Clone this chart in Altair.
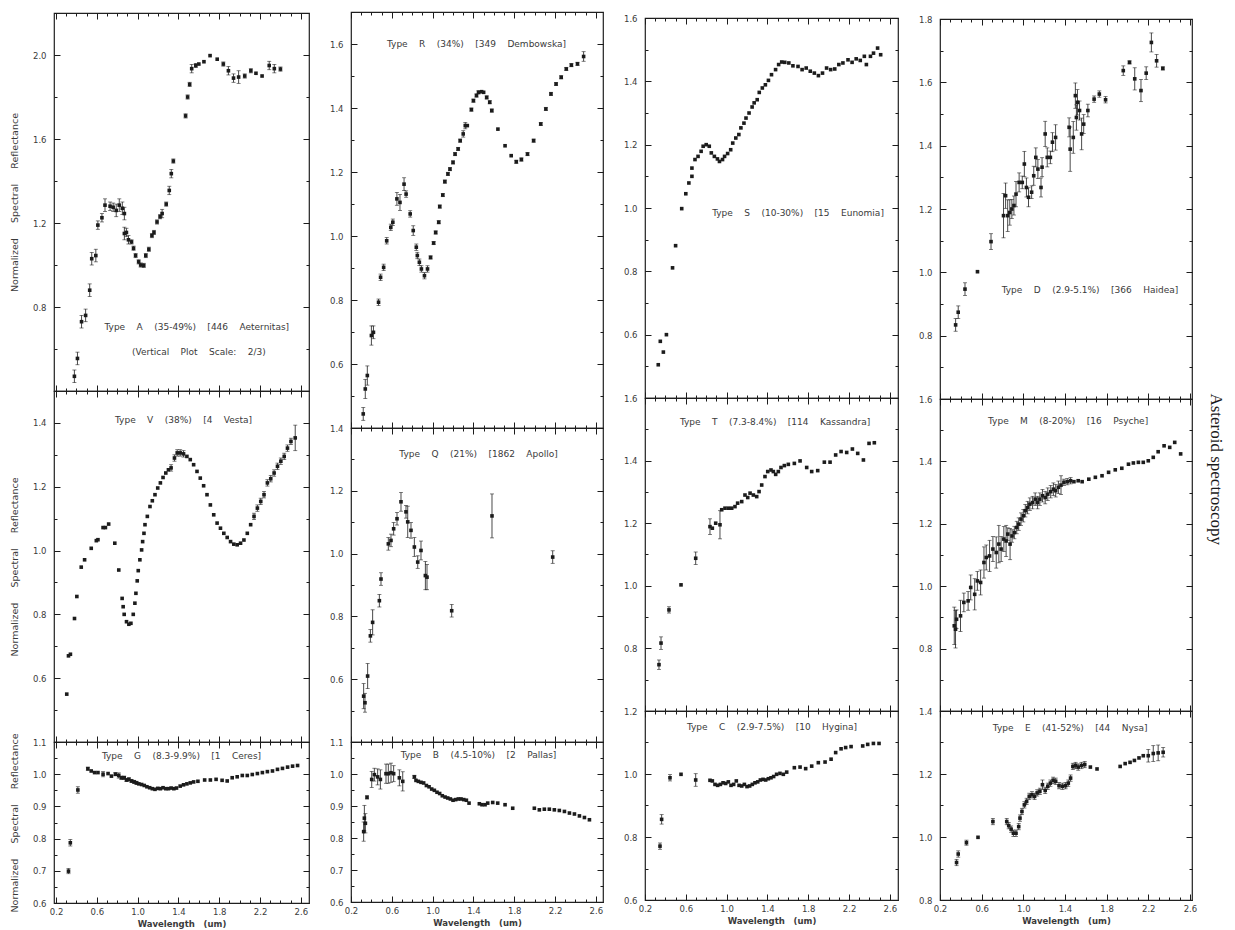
import math
import altair as alt
import pandas as pd

NB = "\u00a0"

# ---------------- data (wavelength um, normalized reflectance, error) ----------------
X_A = [0.38, 0.41, 0.45, 0.49, 0.53, 0.55, 0.59, 0.61, 0.65, 0.68,
       0.73, 0.76, 0.79, 0.82, 0.85, 0.87, 0.87, 0.89, 0.91, 0.94,
       0.96, 0.98, 1.01, 1.03, 1.06, 1.08, 1.11, 1.14, 1.16, 1.19,
       1.22, 1.24, 1.28, 1.31, 1.33, 1.35, 1.47, 1.49, 1.51, 1.53,
       1.57, 1.60, 1.65, 1.71, 1.78, 1.84, 1.89, 1.94, 1.99, 2.05,
       2.11, 2.16, 2.22, 2.29, 2.34, 2.40]
Y_A = [0.47, 0.555, 0.73, 0.76, 0.88, 1.03, 1.045, 1.19, 1.225, 1.285,
       1.28, 1.275, 1.26, 1.285, 1.27, 1.245, 1.15, 1.155, 1.12, 1.11,
       1.08, 1.045, 1.015, 1.0, 0.998, 1.045, 1.075, 1.14, 1.155, 1.205,
       1.23, 1.245, 1.29, 1.355, 1.435, 1.495, 1.71, 1.80, 1.86, 1.935,
       1.95, 1.957, 1.968, 1.997, 1.98, 1.957, 1.925, 1.89, 1.895, 1.90,
       1.925, 1.913, 1.90, 1.95, 1.935, 1.933]
E_A = [0.03, 0.03, 0.03, 0.03, 0.03, 0.03, 0.03, 0.02, 0.02, 0.03,
       0.02, 0.02, 0.03, 0.03, 0.03, 0.03, 0.03, 0.02, 0.02, 0.01,
       0.01, 0.01, 0.01, 0.01, 0.01, 0.01, 0.01, 0.01, 0.01, 0.01,
       0.01, 0.02, 0.01, 0.02, 0.02, 0.01, 0.01, 0.01, 0.01, 0.02,
       0.01, 0.0, 0.0, 0.0, 0.0, 0.01, 0.02, 0.02, 0.03, 0.01,
       0.01, 0.0, 0.0, 0.02, 0.02, 0.01]

X_V = [0.305, 0.322, 0.341, 0.381, 0.404, 0.447, 0.48, 0.545, 0.595, 0.611,
       0.661, 0.684, 0.716, 0.776, 0.815, 0.848, 0.858, 0.868, 0.891, 0.914,
       0.934, 0.957, 0.973, 0.983, 0.996, 1.006, 1.022, 1.039, 1.049, 1.062,
       1.072, 1.095, 1.121, 1.144, 1.17, 1.197, 1.223, 1.249, 1.276, 1.302,
       1.328, 1.361, 1.388, 1.417, 1.45, 1.483, 1.516, 1.549, 1.582, 1.614,
       1.647, 1.68, 1.713, 1.746, 1.779, 1.812, 1.845, 1.878, 1.911, 1.943,
       1.976, 2.009, 2.042, 2.075, 2.108, 2.141, 2.174, 2.207, 2.239, 2.272,
       2.305, 2.338, 2.371, 2.404, 2.437, 2.469, 2.503, 2.545]
Y_V = [0.55, 0.67, 0.675, 0.787, 0.856, 0.948, 0.971, 1.007, 1.031, 1.034,
       1.072, 1.072, 1.083, 1.023, 0.939, 0.85, 0.824, 0.8, 0.777, 0.769,
       0.772, 0.8, 0.835, 0.866, 0.905, 0.937, 0.971, 1.002, 1.028, 1.054,
       1.081, 1.107, 1.138, 1.156, 1.175, 1.196, 1.212, 1.229, 1.243, 1.253,
       1.259, 1.29, 1.306, 1.306, 1.303, 1.295, 1.285, 1.269, 1.248, 1.227,
       1.203, 1.175, 1.143, 1.112, 1.086, 1.07, 1.054, 1.041, 1.028, 1.02,
       1.018, 1.023, 1.033, 1.054, 1.081, 1.107, 1.133, 1.154, 1.175, 1.212,
       1.225, 1.243, 1.264, 1.28, 1.295, 1.321, 1.342, 1.353]
E_V = [0.0, 0.0, 0.0, 0.0, 0.0, 0.0, 0.0, 0.0, 0.0, 0.0,
       0.0, 0.0, 0.0, 0.0, 0.0, 0.0, 0.0, 0.0, 0.0, 0.0,
       0.0, 0.0, 0.0, 0.0, 0.0, 0.0, 0.0, 0.0, 0.0, 0.0,
       0.0, 0.0, 0.0, 0.0, 0.0, 0.0, 0.0, 0.0, 0.0, 0.0,
       0.01, 0.01, 0.01, 0.01, 0.01, 0.0, 0.0, 0.0, 0.0, 0.0,
       0.0, 0.0, 0.0, 0.0, 0.0, 0.0, 0.0, 0.0, 0.0, 0.0,
       0.0, 0.0, 0.0, 0.0, 0.0, 0.01, 0.01, 0.01, 0.01, 0.01,
       0.01, 0.01, 0.01, 0.01, 0.01, 0.01, 0.01, 0.04]

X_G = [0.322, 0.34, 0.414, 0.512, 0.545, 0.578, 0.611, 0.661, 0.71, 0.743,
       0.782, 0.815, 0.841, 0.868, 0.891, 0.914, 0.94, 0.966, 0.989, 1.012,
       1.039, 1.065, 1.091, 1.118, 1.144, 1.17, 1.197, 1.223, 1.249, 1.276,
       1.302, 1.328, 1.355, 1.381, 1.417, 1.45, 1.483, 1.516, 1.549, 1.591,
       1.657, 1.713, 1.769, 1.828, 1.878, 1.927, 1.976, 2.026, 2.075, 2.124,
       2.174, 2.223, 2.272, 2.322, 2.371, 2.42, 2.47, 2.519, 2.568]
Y_G = [0.699, 0.787, 0.951, 1.017, 1.01, 1.005, 1.005, 1.0, 1.002, 0.994,
       1.0, 0.996, 0.989, 0.989, 0.982, 0.984, 0.979, 0.976, 0.973, 0.97,
       0.968, 0.965, 0.961, 0.958, 0.955, 0.953, 0.956, 0.955, 0.958, 0.955,
       0.955, 0.957, 0.955, 0.957, 0.963, 0.967, 0.97, 0.973, 0.976, 0.978,
       0.982, 0.982, 0.984, 0.981, 0.979, 0.989, 0.992, 0.996, 0.996, 0.999,
       1.002, 1.005, 1.008, 1.01, 1.015, 1.018, 1.022, 1.025, 1.027]
E_G = [0.008, 0.01, 0.01, 0.005, 0.0, 0.0, 0.0, 0.008, 0.0, 0.0,
       0.005, 0.008, 0.005, 0.005, 0.005, 0.005, 0.005, 0.005, 0.005, 0.0,
       0.0, 0.0, 0.0, 0.0, 0.0, 0.0, 0.0, 0.0, 0.0, 0.0,
       0.0, 0.0, 0.0, 0.0, 0.0, 0.0, 0.0, 0.0, 0.0, 0.0,
       0.0, 0.0, 0.0, 0.0, 0.0, 0.0, 0.0, 0.0, 0.0, 0.0,
       0.0, 0.0, 0.0, 0.0, 0.0, 0.0, 0.0, 0.0, 0.0]

X_R = [0.32, 0.34, 0.36, 0.40, 0.42, 0.47, 0.49, 0.52, 0.55, 0.59,
       0.61, 0.65, 0.68, 0.72, 0.74, 0.78, 0.81, 0.84, 0.85, 0.87,
       0.89, 0.92, 0.95, 0.98, 1.01, 1.03, 1.06, 1.07, 1.10, 1.12,
       1.15, 1.17, 1.20, 1.22, 1.25, 1.27, 1.30, 1.32, 1.34, 1.38,
       1.40, 1.43, 1.45, 1.48, 1.50, 1.53, 1.56, 1.58, 1.64, 1.71,
       1.77, 1.82, 1.87, 1.93, 1.99, 2.06, 2.11, 2.16, 2.21, 2.26,
       2.31, 2.36, 2.42, 2.48]
Y_R = [0.444, 0.522, 0.564, 0.689, 0.699, 0.793, 0.871, 0.902, 0.985, 1.027,
       1.043, 1.116, 1.105, 1.162, 1.131, 1.069, 1.017, 0.965, 0.939, 0.918,
       0.897, 0.876, 0.897, 0.933, 0.978, 1.011, 1.043, 1.092, 1.128, 1.17,
       1.194, 1.209, 1.23, 1.256, 1.272, 1.298, 1.319, 1.345, 1.345, 1.395,
       1.423, 1.439, 1.449, 1.451, 1.449, 1.433, 1.418, 1.392, 1.334, 1.282,
       1.251, 1.232, 1.239, 1.256, 1.298, 1.35, 1.397, 1.444, 1.475, 1.496,
       1.522, 1.534, 1.538, 1.561]
E_R = [0.02, 0.03, 0.03, 0.03, 0.02, 0.01, 0.01, 0.01, 0.01, 0.01,
       0.01, 0.02, 0.025, 0.02, 0.01, 0.01, 0.015, 0.01, 0.01, 0.01,
       0.01, 0.01, 0.01, 0.005, 0.005, 0.005, 0.005, 0.005, 0.005, 0.005,
       0.005, 0.005, 0.005, 0.005, 0.005, 0.005, 0.01, 0.01, 0.0, 0.005,
       0.005, 0.005, 0.005, 0.0, 0.0, 0.005, 0.005, 0.005, 0.0, 0.0,
       0.0, 0.005, 0.005, 0.005, 0.005, 0.005, 0.005, 0.005, 0.005, 0.005,
       0.005, 0.005, 0.005, 0.015]

X_Q = [0.324, 0.337, 0.363, 0.39, 0.412, 0.478, 0.494, 0.566, 0.592, 0.618,
       0.651, 0.69, 0.739, 0.756, 0.788, 0.821, 0.854, 0.886, 0.929, 0.945,
       1.187, 1.582, 2.177]
Y_Q = [0.546, 0.525, 0.61, 0.738, 0.781, 0.85, 0.919, 1.031, 1.042, 1.079,
       1.111, 1.165, 1.133, 1.101, 1.074, 1.021, 0.973, 1.01, 0.93, 0.925,
       0.818, 1.12, 0.989]
E_Q = [0.04, 0.03, 0.04, 0.02, 0.04, 0.02, 0.02, 0.02, 0.02, 0.02,
       0.02, 0.03, 0.02, 0.05, 0.025, 0.03, 0.02, 0.03, 0.045, 0.04,
       0.02, 0.07, 0.02]

X_B = [0.324, 0.331, 0.341, 0.357, 0.403, 0.429, 0.461, 0.488, 0.543, 0.566,
       0.592, 0.618, 0.674, 0.707, 0.821, 0.837, 0.86, 0.886, 0.912, 0.939,
       0.965, 0.991, 1.017, 1.043, 1.069, 1.095, 1.122, 1.148, 1.174, 1.2,
       1.226, 1.252, 1.278, 1.305, 1.331, 1.357, 1.458, 1.484, 1.514, 1.54,
       1.589, 1.638, 1.71, 1.785, 1.997, 2.046, 2.095, 2.144, 2.193, 2.242,
       2.292, 2.341, 2.39, 2.439, 2.488, 2.537]
Y_B = [0.82, 0.862, 0.846, 0.927, 0.983, 0.998, 0.991, 0.983, 1.001, 1.001,
       1.004, 1.001, 0.988, 0.977, 0.991, 0.98, 0.977, 0.974, 0.972, 0.964,
       0.96, 0.953, 0.949, 0.943, 0.939, 0.932, 0.928, 0.925, 0.922, 0.918,
       0.92, 0.922, 0.922, 0.92, 0.918, 0.909, 0.907, 0.904, 0.904, 0.909,
       0.911, 0.909, 0.904, 0.893, 0.893, 0.888, 0.89, 0.89, 0.888, 0.886,
       0.883, 0.878, 0.875, 0.869, 0.864, 0.857]
E_B = [0.03, 0.04, 0.03, 0.005, 0.025, 0.02, 0.025, 0.03, 0.03, 0.03,
       0.03, 0.025, 0.025, 0.03, 0.005, 0.0, 0.0, 0.0, 0.0, 0.0,
       0.0, 0.0, 0.0, 0.0, 0.0, 0.0, 0.0, 0.0, 0.0, 0.0,
       0.0, 0.0, 0.0, 0.0, 0.0, 0.0, 0.0, 0.0, 0.0, 0.0,
       0.0, 0.0, 0.0, 0.0, 0.0, 0.0, 0.0, 0.0, 0.0, 0.0,
       0.0, 0.0, 0.0, 0.0, 0.0, 0.0]

X_S = [0.33, 0.35, 0.38, 0.41, 0.47, 0.50, 0.56, 0.60, 0.63, 0.66,
       0.66, 0.69, 0.72, 0.75, 0.77, 0.80, 0.83, 0.85, 0.88, 0.91,
       0.93, 0.96, 0.98, 1.01, 1.04, 1.06, 1.09, 1.12, 1.14, 1.17,
       1.19, 1.22, 1.25, 1.27, 1.30, 1.32, 1.35, 1.38, 1.41, 1.44,
       1.48, 1.51, 1.54, 1.57, 1.61, 1.65, 1.70, 1.74, 1.78, 1.82,
       1.86, 1.90, 1.94, 1.98, 2.02, 2.06, 2.10, 2.14, 2.19, 2.23,
       2.27, 2.31, 2.35, 2.37, 2.41, 2.44, 2.48, 2.51]
Y_S = [0.505, 0.579, 0.545, 0.6, 0.811, 0.881, 0.998, 1.045, 1.079, 1.1,
       1.126, 1.153, 1.163, 1.179, 1.195, 1.2, 1.195, 1.174, 1.163, 1.155,
       1.147, 1.153, 1.163, 1.172, 1.184, 1.205, 1.221, 1.232, 1.253, 1.268,
       1.284, 1.3, 1.319, 1.332, 1.342, 1.365, 1.379, 1.389, 1.403, 1.421,
       1.437, 1.453, 1.461, 1.46, 1.458, 1.449, 1.447, 1.437, 1.442, 1.432,
       1.426, 1.418, 1.426, 1.442, 1.437, 1.439, 1.453, 1.458, 1.468, 1.46,
       1.471, 1.466, 1.479, 1.453, 1.479, 1.489, 1.505, 1.484]
E_S = [0.0 for _ in X_S]

X_T = [0.337, 0.357, 0.435, 0.553, 0.697, 0.837, 0.86, 0.893, 0.935, 0.952,
       0.984, 1.017, 1.05, 1.082, 1.108, 1.148, 1.18, 1.207, 1.23, 1.262,
       1.295, 1.318, 1.344, 1.376, 1.403, 1.435, 1.458, 1.481, 1.507, 1.533,
       1.566, 1.605, 1.664, 1.72, 1.785, 1.834, 1.893, 1.958, 2.014, 2.069,
       2.122, 2.177, 2.233, 2.285, 2.341, 2.396, 2.448]
Y_T = [0.748, 0.817, 0.923, 1.003, 1.088, 1.189, 1.184, 1.2, 1.195, 1.243,
       1.248, 1.248, 1.248, 1.253, 1.264, 1.269, 1.29, 1.282, 1.296, 1.29,
       1.285, 1.301, 1.322, 1.349, 1.365, 1.37, 1.365, 1.356, 1.365, 1.378,
       1.384, 1.388, 1.391, 1.399, 1.378, 1.365, 1.368, 1.395, 1.395, 1.418,
       1.429, 1.426, 1.437, 1.423, 1.402, 1.455, 1.457]
E_T = [0.015, 0.02, 0.01, 0.0, 0.02, 0.025, 0.0, 0.0, 0.045, 0.0,
       0.0, 0.0, 0.0, 0.0, 0.0, 0.0, 0.0, 0.0, 0.0, 0.0,
       0.0, 0.0, 0.0, 0.0, 0.0, 0.0, 0.0, 0.0, 0.0, 0.0,
       0.0, 0.0, 0.0, 0.0, 0.0, 0.0, 0.0, 0.0, 0.0, 0.0,
       0.0, 0.0, 0.0, 0.0, 0.0, 0.0, 0.0]

X_C = [0.347, 0.363, 0.445, 0.553, 0.697, 0.837, 0.86, 0.886, 0.912, 0.939,
       0.965, 0.991, 1.017, 1.043, 1.069, 1.095, 1.122, 1.148, 1.174, 1.2,
       1.226, 1.252, 1.278, 1.305, 1.331, 1.357, 1.383, 1.409, 1.435, 1.461,
       1.49, 1.523, 1.556, 1.589, 1.664, 1.72, 1.775, 1.834, 1.899, 1.965,
       2.024, 2.069, 2.122, 2.167, 2.22, 2.334, 2.383, 2.439, 2.494]
Y_C = [0.771, 0.856, 0.988, 0.999, 0.981, 0.98, 0.978, 0.967, 0.964, 0.967,
       0.972, 0.97, 0.975, 0.964, 0.967, 0.978, 0.964, 0.962, 0.967, 0.96,
       0.962, 0.967, 0.972, 0.975, 0.981, 0.983, 0.981, 0.985, 0.988, 0.992,
       0.999, 1.002, 0.999, 1.006, 1.02, 1.022, 1.017, 1.025, 1.036, 1.038,
       1.047, 1.068, 1.08, 1.084, 1.087, 1.089, 1.094, 1.097, 1.097]
E_C = [0.01, 0.015, 0.01, 0.0, 0.02, 0.0, 0.0, 0.0, 0.0, 0.0,
       0.0, 0.0, 0.0, 0.0, 0.0, 0.0, 0.0, 0.0, 0.0, 0.0,
       0.0, 0.0, 0.0, 0.0, 0.0, 0.0, 0.0, 0.0, 0.0, 0.0,
       0.0, 0.0, 0.0, 0.0, 0.0, 0.0, 0.0, 0.0, 0.0, 0.0,
       0.0, 0.0, 0.0, 0.0, 0.0, 0.0, 0.0, 0.0, 0.0]

X_D = [0.35, 0.375, 0.44, 0.56, 0.69, 0.81, 0.83, 0.85, 0.87, 0.89,
       0.91, 0.93, 0.96, 0.99, 1.01, 1.03, 1.05, 1.08, 1.10, 1.12,
       1.14, 1.17, 1.18, 1.21, 1.23, 1.26, 1.28, 1.31, 1.44, 1.45,
       1.48, 1.50, 1.51, 1.52, 1.54, 1.56, 1.58, 1.62, 1.68, 1.73,
       1.79, 1.96, 2.02, 2.07, 2.13, 2.18, 2.23, 2.28, 2.34]
Y_D = [0.834, 0.874, 0.947, 1.002, 1.097, 1.179, 1.242, 1.179, 1.189, 1.2,
       1.211, 1.247, 1.284, 1.284, 1.342, 1.268, 1.237, 1.253, 1.305, 1.363,
       1.326, 1.268, 1.332, 1.437, 1.363, 1.363, 1.411, 1.426, 1.458, 1.389,
       1.426, 1.558, 1.489, 1.537, 1.511, 1.437, 1.468, 1.511, 1.547, 1.563,
       1.545, 1.637, 1.663, 1.611, 1.574, 1.629, 1.726, 1.668, 1.644]
E_D = [0.02, 0.02, 0.02, 0.0, 0.025, 0.07, 0.04, 0.05, 0.04, 0.03,
       0.03, 0.04, 0.03, 0.02, 0.04, 0.03, 0.03, 0.02, 0.03, 0.03,
       0.03, 0.03, 0.03, 0.04, 0.03, 0.02, 0.03, 0.04, 0.03, 0.07,
       0.05, 0.04, 0.04, 0.04, 0.03, 0.05, 0.03, 0.02, 0.01, 0.01,
       0.01, 0.015, 0.005, 0.035, 0.035, 0.02, 0.03, 0.02, 0.005]

X_M = [0.337, 0.349, 0.359, 0.397, 0.429, 0.47, 0.495, 0.533, 0.559, 0.59,
       0.622, 0.644, 0.676, 0.708, 0.74, 0.765, 0.787, 0.813, 0.835, 0.851,
       0.873, 0.892, 0.914, 0.937, 0.956, 0.978, 1.0, 1.019, 1.041, 1.063,
       1.089, 1.114, 1.137, 1.159, 1.184, 1.21, 1.235, 1.263, 1.289, 1.311,
       1.337, 1.362, 1.39, 1.422, 1.454, 1.486, 1.527, 1.565, 1.629, 1.692,
       1.756, 1.819, 1.883, 1.946, 2.01, 2.057, 2.105, 2.152, 2.2, 2.248,
       2.295, 2.352, 2.406, 2.454, 2.511]
Y_M = [0.873, 0.862, 0.894, 0.905, 0.948, 0.953, 0.996, 0.974, 1.017, 1.012,
       1.076, 1.092, 1.097, 1.119, 1.108, 1.135, 1.119, 1.151, 1.145, 1.167,
       1.135, 1.161, 1.172, 1.188, 1.199, 1.215, 1.226, 1.242, 1.252, 1.263,
       1.268, 1.279, 1.268, 1.279, 1.29, 1.284, 1.295, 1.303, 1.311, 1.306,
       1.317, 1.324, 1.333, 1.335, 1.338, 1.335, 1.338, 1.335, 1.343, 1.349,
       1.354, 1.365, 1.373, 1.378, 1.391, 1.395, 1.397, 1.397, 1.402, 1.413,
       1.431, 1.45, 1.445, 1.461, 1.424]
E_M = [0.06, 0.06, 0.03, 0.05, 0.03, 0.03, 0.04, 0.05, 0.03, 0.04,
       0.05, 0.04, 0.05, 0.04, 0.05, 0.06, 0.04, 0.04, 0.05, 0.02,
       0.05, 0.02, 0.02, 0.02, 0.02, 0.02, 0.02, 0.02, 0.02, 0.02,
       0.02, 0.02, 0.02, 0.02, 0.02, 0.02, 0.02, 0.02, 0.02, 0.02,
       0.02, 0.03, 0.01, 0.01, 0.01, 0.0, 0.0, 0.0, 0.0, 0.0,
       0.0, 0.0, 0.0, 0.0, 0.0, 0.0, 0.0, 0.0, 0.0, 0.0,
       0.0, 0.0, 0.0, 0.0, 0.0]

X_E = [0.359, 0.375, 0.454, 0.565, 0.708, 0.841, 0.86, 0.883, 0.905, 0.93,
       0.956, 0.968, 0.987, 1.01, 1.032, 1.057, 1.083, 1.108, 1.133, 1.159,
       1.184, 1.21, 1.235, 1.26, 1.286, 1.311, 1.343, 1.375, 1.406, 1.432,
       1.454, 1.476, 1.502, 1.527, 1.559, 1.59, 1.644, 1.708, 1.93, 1.978,
       2.025, 2.067, 2.111, 2.152, 2.2, 2.248, 2.295, 2.343]
Y_E = [0.919, 0.946, 0.982, 0.999, 1.049, 1.049, 1.036, 1.025, 1.012, 1.012,
       1.033, 1.06, 1.081, 1.102, 1.113, 1.129, 1.134, 1.129, 1.14, 1.145,
       1.166, 1.148, 1.161, 1.171, 1.18, 1.177, 1.163, 1.161, 1.163, 1.171,
       1.187, 1.224, 1.227, 1.222, 1.227, 1.23, 1.222, 1.216, 1.224, 1.233,
       1.237, 1.243, 1.251, 1.258, 1.258, 1.265, 1.267, 1.269]
E_E = [0.01, 0.01, 0.008, 0.0, 0.01, 0.01, 0.01, 0.01, 0.01, 0.01,
       0.01, 0.01, 0.01, 0.01, 0.01, 0.01, 0.01, 0.01, 0.01, 0.01,
       0.015, 0.01, 0.01, 0.01, 0.01, 0.01, 0.01, 0.01, 0.01, 0.01,
       0.01, 0.01, 0.01, 0.01, 0.01, 0.01, 0.0, 0.0, 0.0, 0.0,
       0.0, 0.0, 0.0, 0.0, 0.02, 0.025, 0.025, 0.015]

# panel captions: (text, x, y) in data units
NOTES = {
    "A": [("Type A (35-49%) [446 Aeternitas]", 1.58, 0.705), ("(Vertical Plot Scale: 2/3)", 1.60, 0.586)],
    "V": [("Type V (38%) [4 Vesta]", 1.45, 1.41)],
    "G": [("Type G (8.3-9.9%) [1 Ceres]", 1.43, 1.056)],
    "R": [("Type R (34%) [349 Dembowska]", 1.43, 1.60)],
    "Q": [("Type Q (21%) [1862 Apollo]", 1.45, 1.318)],
    "B": [("Type B (4.5-10%) [2 Pallas]", 1.45, 1.06)],
    "S": [("Type S (10-30%) [15 Eunomia]", 1.70, 0.984)],
    "T": [("Type T (7.3-8.4%) [114 Kassandra]", 1.475, 1.524)],
    "C": [("Type C (2.9-7.5%) [10 Hygina]", 1.445, 1.15)],
    "D": [("Type D (2.9-5.1%) [366 Haidea]", 1.64, 0.944)],
    "M": [("Type M (8-20%) [16 Psyche]", 1.43, 1.53)],
    "E": [("Type E (41-52%) [44 Nysa]", 1.45, 1.347)],
}

# y-axis label values per panel
YLAB = {
    "A": [0.8, 1.2, 1.6, 2.0], "V": [0.6, 0.8, 1.0, 1.2, 1.4], "G": [0.6, 0.7, 0.8, 0.9, 1.0, 1.1],
    "R": [0.6, 0.8, 1.0, 1.2, 1.4, 1.6], "Q": [0.6, 0.8, 1.0, 1.2, 1.4], "B": [0.6, 0.7, 0.8, 0.9, 1.0, 1.1],
    "S": [0.6, 0.8, 1.0, 1.2, 1.4, 1.6], "T": [0.8, 1.0, 1.2, 1.4, 1.6], "C": [0.6, 0.8, 1.0, 1.2],
    "D": [0.8, 1.0, 1.2, 1.4, 1.6, 1.8], "M": [0.8, 1.0, 1.2, 1.4, 1.6], "E": [0.8, 1.0, 1.2, 1.4],
}
YDOM = {
    "A": [0.4, 2.2], "V": [0.4, 1.5], "G": [0.6, 1.1],
    "R": [0.4, 1.7], "Q": [0.4, 1.4], "B": [0.6, 1.1],
    "S": [0.4, 1.6], "T": [0.6, 1.6], "C": [0.6, 1.2],
    "D": [0.6, 1.8], "M": [0.6, 1.6], "E": [0.8, 1.4],
}
YSTEP = {"A": 0.4, "V": 0.2, "G": 0.1, "R": 0.2, "Q": 0.2, "B": 0.1,
         "S": 0.2, "T": 0.2, "C": 0.2, "D": 0.2, "M": 0.2, "E": 0.2}
SERIES = {
    "A": (X_A, Y_A, E_A), "V": (X_V, Y_V, E_V), "G": (X_G, Y_G, E_G),
    "R": (X_R, Y_R, E_R), "Q": (X_Q, Y_Q, E_Q), "B": (X_B, Y_B, E_B),
    "S": (X_S, Y_S, E_S), "T": (X_T, Y_T, E_T), "C": (X_C, Y_C, E_C),
    "D": (X_D, Y_D, E_D), "M": (X_M, Y_M, E_M), "E": (X_E, Y_E, E_E),
}

XLAB = [0.2, 0.6, 1.0, 1.4, 1.8, 2.2, 2.6]
XMINOR = [round(0.2 + 0.1 * i, 1) for i in range(25)]

# ---------------- style ----------------
INK = "#1c1c1c"
TXT = "#3a3a3a"
FONT = "DejaVu Sans"
YTITLE = "Normalized Spectral Reflectance".replace(" ", NB * 5)
XTITLE = "Wavelength (um)".replace(" ", NB * 3)


def ticks_between(lo, hi, step):
    n = int(math.floor((hi - lo) / step + 1e-6))
    return [round(lo + step * i, 3) for i in range(n + 1)]


def panel(key, w, h, xdom, bottom=False, ytitle=False):
    xs, ys, es = SERIES[key]
    df = pd.DataFrame({"x": xs, "y": ys, "e": es})
    df["lo"] = df["y"] - df["e"]
    df["hi"] = df["y"] + df["e"]
    ydom = YDOM[key]
    step = YSTEP[key]
    ymaj = ticks_between(ydom[0], ydom[1], step)
    ymin = ticks_between(ydom[0], ydom[1], step / 2)
    sx = alt.Scale(domain=xdom, nice=False, zero=False)
    sy = alt.Scale(domain=ydom, nice=False, zero=False)
    base = alt.Chart(df)

    if bottom:
        xaxis = alt.Axis(orient="bottom", values=XLAB, format=".1f", ticks=False, domain=False,
                         grid=False, labelPadding=4, labelFlush=False, labelOverlap=False,
                         title=XTITLE, titleFontWeight="bold", titleFontSize=8.5, titlePadding=4)
    else:
        xaxis = None
    yaxis = alt.Axis(orient="left", values=YLAB[key], format=".1f", ticks=False, domain=False,
                     grid=False, labelPadding=8, labelFlush=False, labelOverlap=False,
                     title=YTITLE if ytitle else None, titlePadding=13)

    pts = base.mark_square(size=13, color=INK, opacity=1).encode(
        x=alt.X("x:Q", scale=sx, axis=xaxis),
        y=alt.Y("y:Q", scale=sy, axis=yaxis),
    )
    eb = base.transform_filter("datum.e > 0")
    bars = eb.mark_rule(color=INK, strokeWidth=0.8).encode(
        x=alt.X("x:Q", scale=sx, axis=None),
        y=alt.Y("lo:Q", scale=sy, axis=None),
        y2="hi:Q",
    )
    cap_lo = eb.mark_tick(orient="horizontal", size=4, thickness=0.8, color=INK).encode(
        x=alt.X("x:Q", scale=sx, axis=None), y=alt.Y("lo:Q", scale=sy, axis=None))
    cap_hi = eb.mark_tick(orient="horizontal", size=4, thickness=0.8, color=INK).encode(
        x=alt.X("x:Q", scale=sx, axis=None), y=alt.Y("hi:Q", scale=sy, axis=None))

    ndf = pd.DataFrame([{"t": t.replace(" ", NB * 4), "x": x, "y": y} for t, x, y in NOTES[key]])
    notes = alt.Chart(ndf).mark_text(font=FONT, fontSize=9, color=TXT, align="center",
                                     baseline="middle").encode(
        x=alt.X("x:Q", scale=sx, axis=None), y=alt.Y("y:Q", scale=sy, axis=None), text="t:N")

    def tick_layer(xo, yo, size, xv, yv):
        return base.mark_point(opacity=0).encode(
            x=alt.X("x:Q", scale=sx, axis=alt.Axis(orient=xo, offset=-h, values=xv, labels=False,
                                                   domain=False, grid=False, tickSize=size,
                                                   tickColor=INK, tickWidth=1, title=None)),
            y=alt.Y("y:Q", scale=sy, axis=alt.Axis(orient=yo, offset=-w, values=yv, labels=False,
                                                   domain=False, grid=False, tickSize=size,
                                                   tickColor=INK, tickWidth=1, title=None)),
        )

    layers = [pts, bars, cap_lo, cap_hi, notes,
              tick_layer("top", "right", 6, XLAB, ymaj),
              tick_layer("bottom", "left", 6, XLAB, ymaj),
              tick_layer("top", "right", 3, XMINOR, ymin),
              tick_layer("bottom", "left", 3, XMINOR, ymin)]
    return alt.layer(*layers).resolve_axis(x="independent", y="independent").properties(width=w, height=h)


def spacer(w, h):
    return alt.Chart(pd.DataFrame({"v": [0]})).mark_point(opacity=0).encode(
        x=alt.X("v:Q", axis=None), y=alt.Y("v:Q", axis=None)
    ).properties(width=w, height=h, view=alt.ViewBackground(strokeOpacity=0))


W1, W2, W3, W4 = 255, 252, 253, 252
XD1, XD2, XD3, XD4 = [0.18, 2.68], [0.2, 2.67], [0.2, 2.68], [0.2, 2.62]

col1 = alt.vconcat(spacer(W1, 1),
                   panel("A", W1, 378, XD1, ytitle=True),
                   panel("V", W1, 351, XD1, ytitle=True),
                   panel("G", W1, 161, XD1, bottom=True, ytitle=True),
                   spacing=0, bounds="flush")
col2 = alt.vconcat(panel("R", W2, 416, XD2),
                   panel("Q", W2, 314, XD2),
                   panel("B", W2, 160, XD2, bottom=True),
                   spacing=0, bounds="flush")
col3 = alt.vconcat(spacer(W3, 6),
                   panel("S", W3, 380, XD3),
                   panel("T", W3, 313, XD3),
                   panel("C", W3, 189, XD3, bottom=True),
                   spacing=0, bounds="flush")
col4 = alt.vconcat(spacer(W4, 7),
                   panel("D", W4, 380, XD4),
                   panel("M", W4, 312, XD4),
                   panel("E", W4, 189, XD4, bottom=True),
                   spacing=0, bounds="flush")

chart = alt.hconcat(col1, col2, col3, col4, spacing=17).properties(
    title=alt.TitleParams(text="Asteroid spectroscopy", orient="right", anchor="middle",
                          font="Liberation Serif", fontSize=17, fontWeight="normal",
                          color="#1a1a1a", offset=20, dy=10),
    padding={"left": 0, "top": 1, "right": 0, "bottom": 0},
).configure_view(
    stroke="#202020", strokeWidth=1.2
).configure_axis(
    labelFont=FONT, labelFontSize=8.5, labelColor=TXT,
    titleFont=FONT, titleFontSize=9.5, titleColor=TXT, titleFontWeight="normal",
    tickColor=INK, tickWidth=1,
).configure_title(font="Liberation Serif")

chart.save("out.html", embed_options={"renderer": "svg", "actions": False})
